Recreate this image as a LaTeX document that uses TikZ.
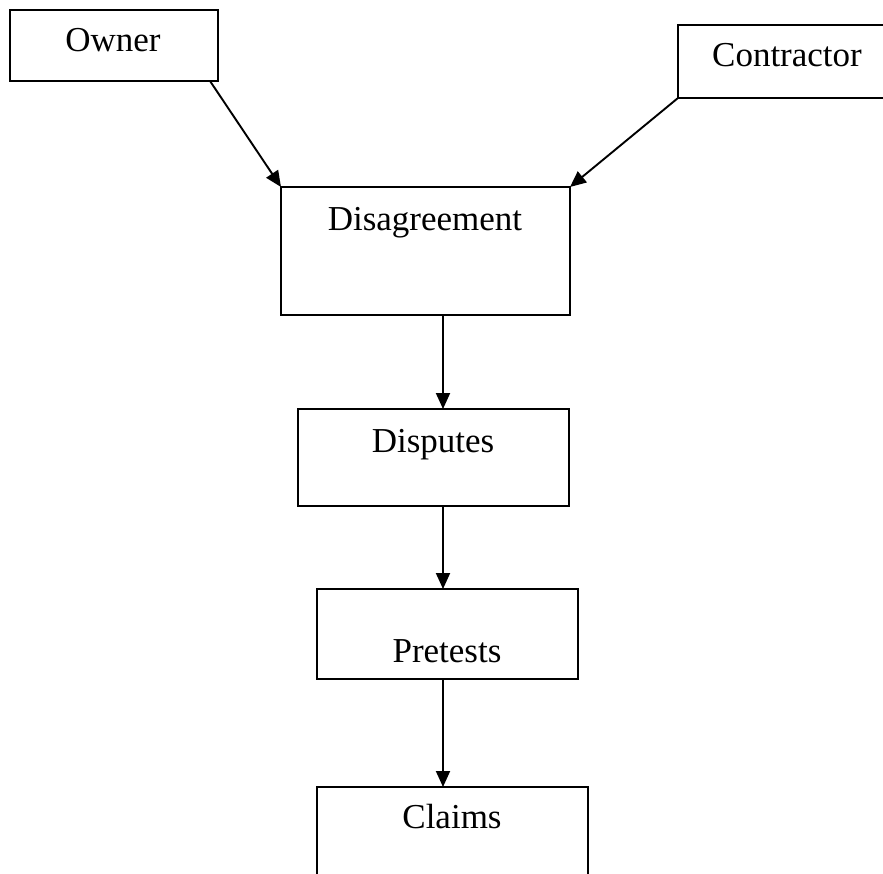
\documentclass[tikz,border=0pt]{standalone}
\usepackage{fontspec}
\setmainfont{Liberation Serif}
\usetikzlibrary{arrows.meta}
\begin{document}
\begin{tikzpicture}[x=1pt,y=-1pt,
  box/.style={draw, line width=2pt, inner sep=0pt, outer sep=0pt, rectangle},
  lbl/.style={inner sep=0pt, outer sep=0pt, anchor=base, font=\fontsize{35}{42}\selectfont},
  arr/.style={line width=1.9pt, -{Triangle[length=16pt,width=14pt]}}]
\useasboundingbox (0,0) rectangle (883,874);
\clip (0,0) rectangle (883,874);
% boxes
\node[box, minimum width=208pt, minimum height=71pt] (owner) at (114,45.5) {};
\node[box, minimum width=218pt, minimum height=73pt] (contr) at (787,61.5) {};
\node[box, minimum width=289pt, minimum height=128pt] (dis) at (425.5,251) {};
\node[box, minimum width=271pt, minimum height=97pt] (disp) at (433.5,457.5) {};
\node[box, minimum width=261pt, minimum height=90pt] (pre) at (447.5,634) {};
\node[box, minimum width=271pt, minimum height=113pt] (claims) at (452.5,843.5) {};
% labels
\node[lbl] (tOwner) at (113,52) {Owner};
\node[lbl] (tContr) at (787,67) {Contractor};
\node[lbl] (tDis) at (425,231) {Disagreement};
\node[lbl] (tDisp) at (433,452) {Disputes};
\node[lbl] (tPre) at (447,662) {Pretests};
\node[lbl] (tClaims) at (452,828) {Claims};
% connectors
\coordinate (ownerout) at (210,81);
\coordinate (ax) at (443,0);
\draw[arr] (ownerout) -- (dis.north west);
\draw[arr] (contr.south west) -- (dis.north east);
\draw[arr] (dis.south -| ax) -- (disp.north -| ax);
\draw[arr] (disp.south -| ax) -- (pre.north -| ax);
\draw[arr] (pre.south -| ax) -- (claims.north -| ax);
\end{tikzpicture}
\end{document}
